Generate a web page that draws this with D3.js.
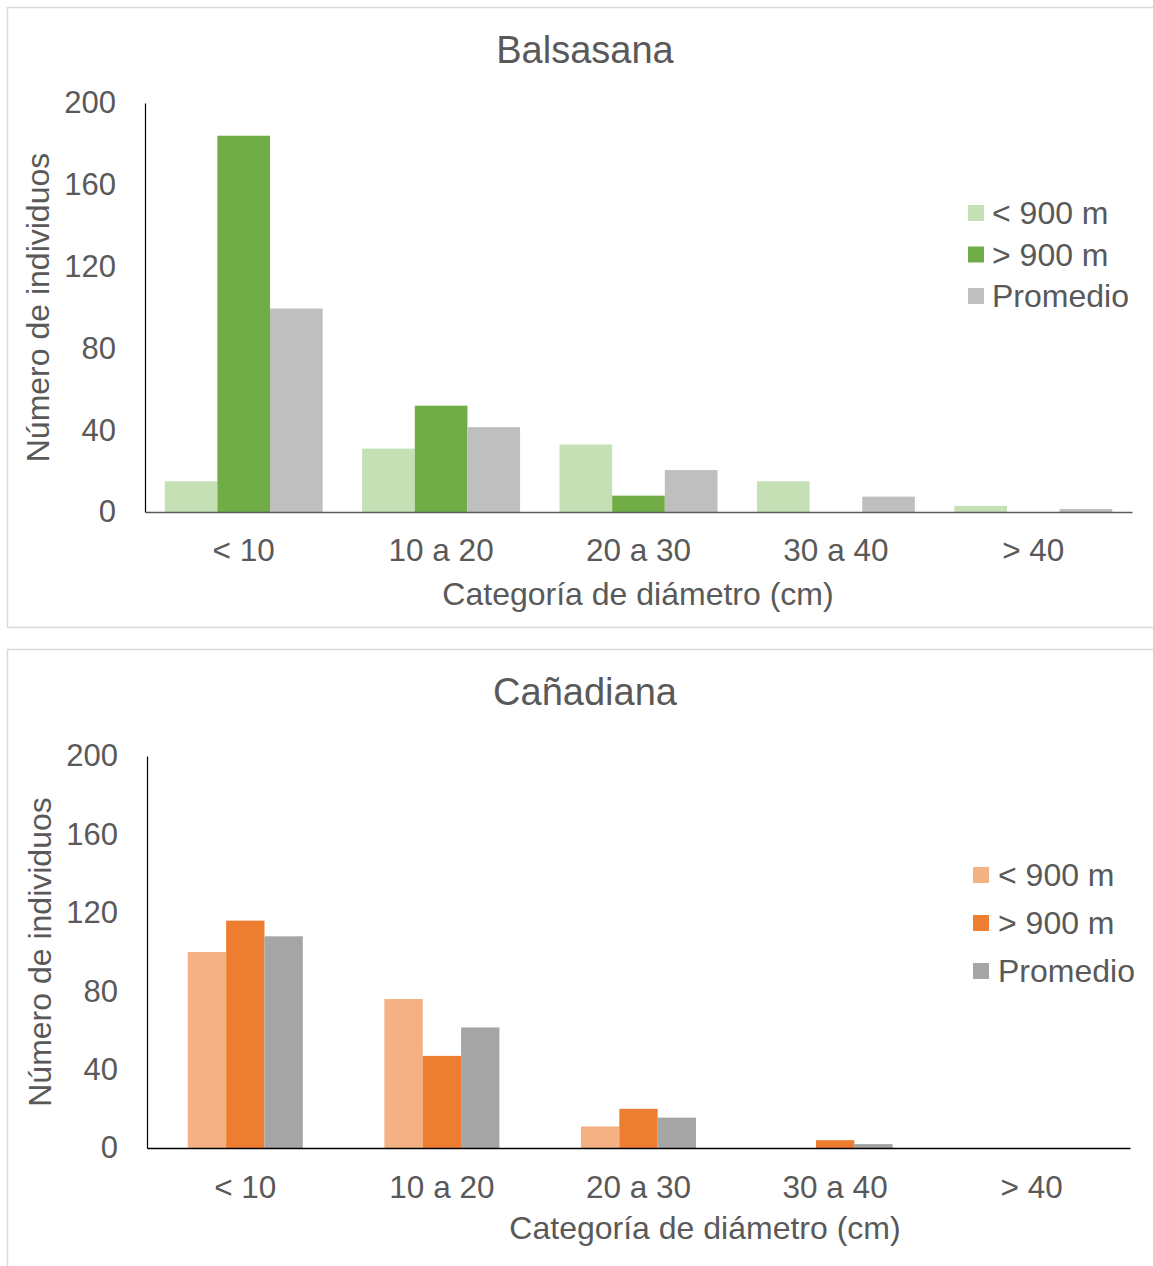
<!DOCTYPE html>
<html>
<head>
<meta charset="utf-8">
<script src="https://cdn.jsdelivr.net/npm/d3@7"></script>
<style>
  body { margin: 0; background: #fff; }
  text { font-family: "Liberation Sans", Arial, sans-serif; fill: #595959; }
</style>
</head>
<body>
<div id="chart-area"></div>
<script>
// data
var categories = ["< 10", "10 a 20", "20 a 30", "30 a 40", "> 40"]
var seriesNames = ["< 900 m", "> 900 m", "Promedio"]
var yTicks = [0, 40, 80, 120, 160, 200]

var balsasanaBajo = [15, 31, 33, 15, 3]
var balsasanaAlto = [184, 52, 8, 0, 0]
var balsasanaProm = [99.5, 41.5, 20.5, 7.5, 1.5]

var canadianaBajo = [100, 76, 11, 0, 0]
var canadianaAlto = [116, 47, 20, 4, 0]
var canadianaProm = [108, 61.5, 15.5, 2, 0]

var width = 1153
var height = 1266

var svg = d3.select("#chart-area")
  .append("svg")
  .attr("width", width)
  .attr("height", height)

function drawPanel(p) {
  var g = svg.append("g")

  // chart border
  g.append("rect")
    .attr("x", p.box[0] + 0.5).attr("y", p.box[1] + 0.5)
    .attr("width", p.box[2]).attr("height", p.box[3])
    .attr("fill", "#fff").attr("stroke", "#d9d9d9").attr("stroke-width", 1.5)

  var x0 = d3.scaleBand().domain(categories).range([p.left, p.right]).padding(0)
  var bw = x0.bandwidth()
  var x1 = d3.scaleBand().domain(seriesNames)
    .range([bw * p.gap, bw * (1 - p.gap)]).padding(0)
  var y = d3.scaleLinear().domain([0, 200]).range([p.bottom, p.top])

  var rows = categories.map((c, i) => ({
    cat: c,
    vals: seriesNames.map((s, k) => ({ name: s, value: p.series[k][i], color: p.colors[k] }))
  }))

  g.selectAll(".grp")
    .data(rows)
    .enter().append("g")
    .attr("transform", d => `translate(${x0(d.cat)},0)`)
    .selectAll("rect")
    .data(d => d.vals)
    .enter().append("rect")
    .attr("x", d => x1(d.name))
    .attr("y", d => y(d.value))
    .attr("width", x1.bandwidth())
    .attr("height", d => p.bottom - y(d.value))
    .attr("fill", d => d.color)

  var leftAxis = d3.axisLeft(y).tickValues(yTicks).tickSize(0).tickSizeOuter(0).tickPadding(29)
  var ya = g.append("g").attr("transform", `translate(${p.left},0)`).call(leftAxis)
  ya.select(".domain").attr("stroke", "#000").attr("stroke-width", 1.2)
  ya.selectAll("text").attr("font-size", "31px").attr("font-family", null).attr("fill", null)

  var bottomAxis = d3.axisBottom(x0).tickSize(0).tickSizeOuter(0).tickPadding(p.xPad)
  var xa = g.append("g").attr("transform", `translate(0,${p.bottom})`).call(bottomAxis)
  xa.select(".domain").attr("stroke", p.baseColor).attr("stroke-width", 1.5)
  xa.selectAll("text").attr("font-size", "31.5px").attr("font-family", null).attr("fill", null)

  g.append("text")
    .attr("x", 585).attr("y", p.titleY)
    .attr("text-anchor", "middle")
    .attr("font-size", "38px")
    .text(p.title)

  g.append("text")
    .attr("x", p.xTitle[0]).attr("y", p.xTitle[1])
    .attr("text-anchor", "middle")
    .attr("font-size", "32px")
    .text("Categoría de diámetro (cm)")

  g.append("text")
    .attr("transform", `translate(${p.yTitleX},${(p.top + p.bottom) / 2}) rotate(-90)`)
    .attr("text-anchor", "middle")
    .attr("font-size", "32px")
    .text("Número de individuos")

  var leg = g.selectAll(".leg")
    .data(seriesNames)
    .enter().append("g")
    .attr("transform", (d, i) => `translate(${p.legend[0]},${p.legend[1] + i * p.legend[2]})`)
  leg.append("rect")
    .attr("x", 0).attr("y", -8).attr("width", 16).attr("height", 16)
    .attr("fill", (d, i) => p.colors[i])
  leg.append("text")
    .attr("x", p.legend[3]).attr("y", 0)
    .attr("dy", "0.35em")
    .attr("font-size", "32px")
    .text(d => d)
}

drawPanel({
  title: "Balsasana",
  box: [7, 7, 1160, 620],
  left: 145, right: 1132, top: 103, bottom: 512,
  gap: 0.1,
  series: [balsasanaBajo, balsasanaAlto, balsasanaProm],
  colors: ["#c5e0b4", "#70ad47", "#bfbfbf"],
  baseColor: "#595959",
  xPad: 27,
  titleY: 63,
  xTitle: [638, 605],
  yTitleX: 49,
  legend: [968, 213, 41.5, 24]
})

drawPanel({
  title: "Cañadiana",
  box: [7, 649, 1160, 640],
  left: 147, right: 1130, top: 756, bottom: 1148,
  gap: 0.2075,
  series: [canadianaBajo, canadianaAlto, canadianaProm],
  colors: ["#f4b183", "#ed7d31", "#a5a5a5"],
  baseColor: "#000",
  xPad: 28,
  titleY: 705,
  xTitle: [705, 1239],
  yTitleX: 51,
  legend: [973, 875, 48, 25]
})
</script>
</body>
</html>
